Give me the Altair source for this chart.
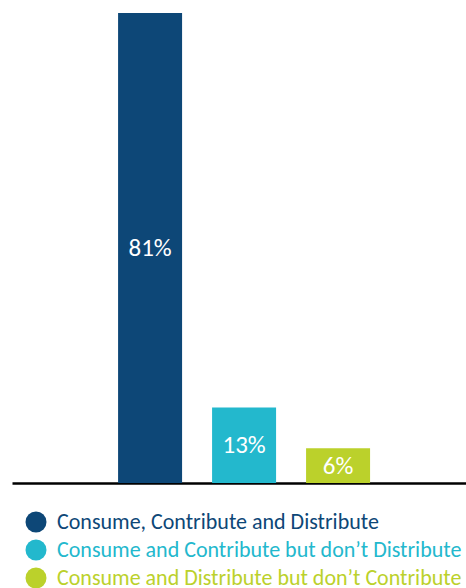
import altair as alt
import pandas as pd

categories = [
    "Consume, Contribute and Distribute",
    "Consume and Contribute but don\u2019t Distribute",
    "Consume and Distribute but don\u2019t Contribute",
]
values = [81, 13, 6]
labels = ["81%", "13%", "6%"]
colors = ["#0D4777", "#23B8CD", "#BBD12B"]

df = pd.DataFrame({"cat": categories, "val": values, "lab": labels})

FONT = "Carlito, Lato, sans-serif"

x_axis = alt.Axis(labels=False, ticks=False, title=None, domainColor="#000000",
                  domainWidth=2.6, domainOpacity=1, grid=False)

x_enc = alt.X(
    "cat:N",
    sort=categories,
    scale=alt.Scale(paddingInner=0.17, paddingOuter=1, align=0.527),
    axis=x_axis,
)

color_enc = alt.Color(
    "cat:N",
    sort=categories,
    scale=alt.Scale(domain=categories, range=colors),
    legend=alt.Legend(
        title=None,
        orient="none",
        legendX=13,
        legendY=498,
        direction="vertical",
        symbolType="circle",
        symbolSize=441,
        symbolStrokeWidth=0,
        symbolOpacity=1,
        labelFontSize=22,
        labelFont=FONT,
        labelOffset=10,
        labelLimit=600,
        rowPadding=6,
        padding=0,
        labelColor=alt.ExprRef("scale('color', datum.value)"),
    ),
)

bars = alt.Chart(df).mark_bar(size=64).encode(
    x=x_enc,
    y=alt.Y("val:Q", scale=alt.Scale(domain=[0, 81], nice=False), axis=None),
    color=color_enc,
)

text = alt.Chart(df).transform_calculate(mid="datum.val / 2").mark_text(
    color="white", fontSize=25, font=FONT, baseline="middle", align="center"
).encode(
    x=alt.X("cat:N", sort=categories, axis=x_axis),
    y=alt.Y("mid:Q", axis=None),
    text="lab:N",
)

chart = (
    alt.layer(bars, text)
    .properties(
        width=454,
        height=470,
        padding={"left": 12, "top": 13, "right": 0, "bottom": 105},
        autosize=alt.AutoSizeParams(type="none"),
        background="white",
    )
    .configure_view(stroke="transparent", strokeWidth=0)
)

chart.save("out.html", embed_options={"renderer": "svg", "actions": False})
